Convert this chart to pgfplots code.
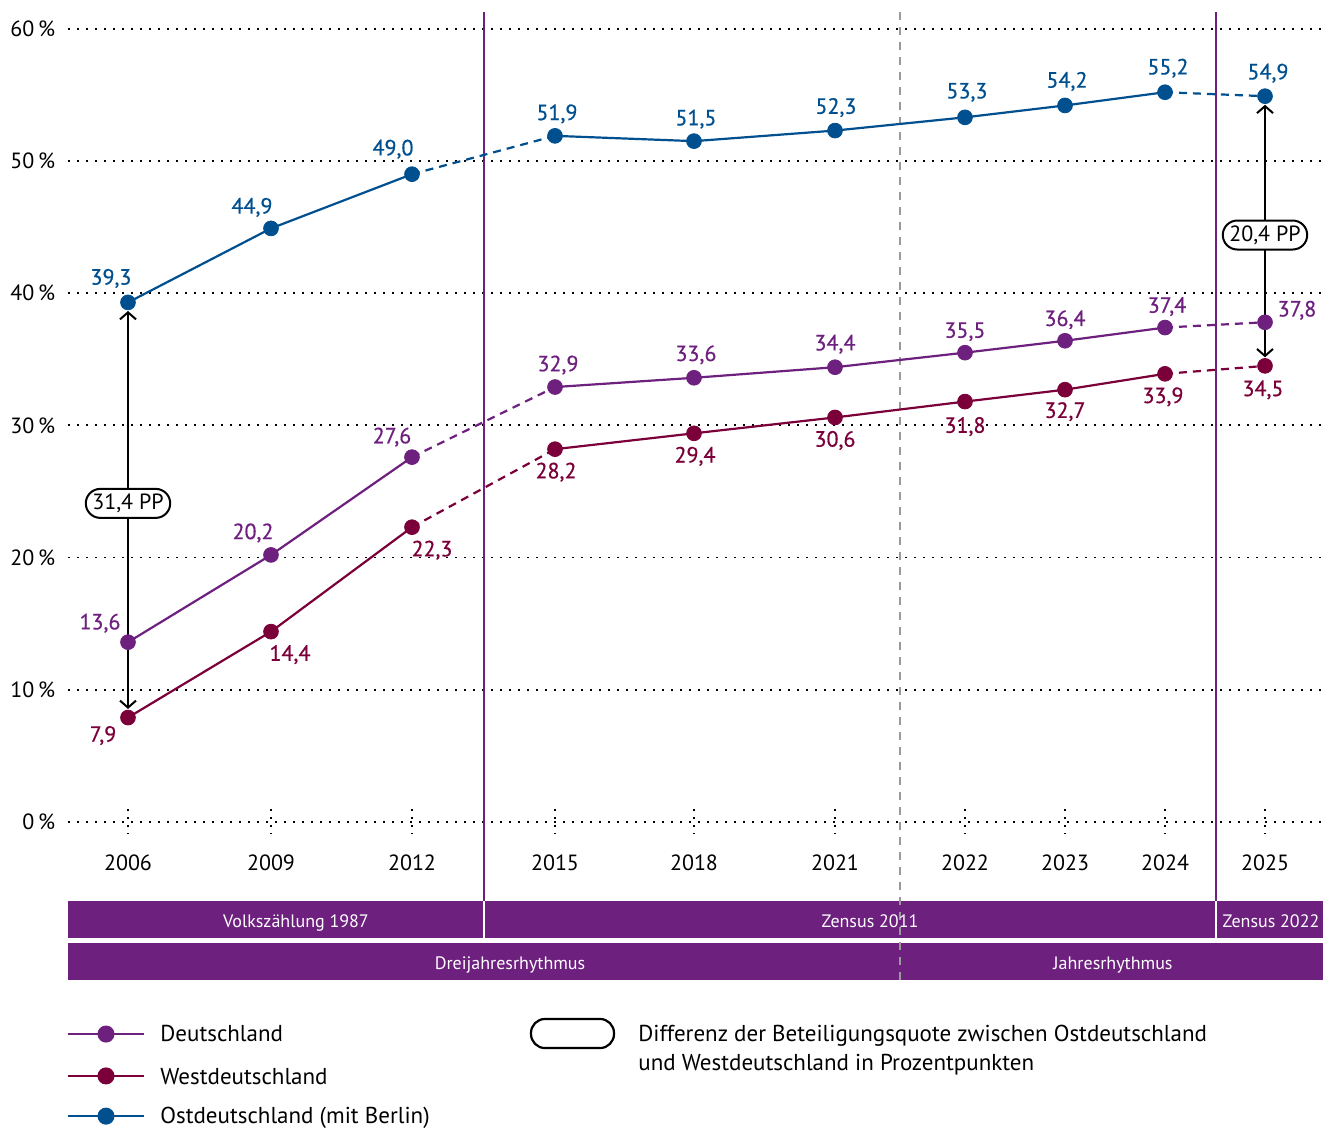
\documentclass[border=0pt]{standalone}
\usepackage{fontspec}
\setmainfont{PT Sans}
\newfontfamily\lblfont{PT Sans}[FakeBold=0.6]
\usepackage{pgfplots}
\pgfplotsset{compat=1.18}
\usepackage{pgfplotstable}
\usetikzlibrary{arrows.meta, shapes.misc}

\definecolor{ostblue}{HTML}{004F8F}
\definecolor{dpurple}{HTML}{6E207F}
\definecolor{westred}{HTML}{7B0039}
\definecolor{dashgray}{HTML}{9A9A9A}

% x positions are in picture units (years unevenly spaced as in the reference)
\pgfplotstableread{
x y dx dy
128 13.6 -14 9.5
271 20.2 -9 11
412 27.6 -10 10
555 32.9 1.5 11
694 33.6 1 11.5
835 34.4 0 11.5
965 35.5 0 10.5
1065 36.4 0 10.5
1165 37.4 1 10.5
1265 37.8 16 6
}\dtab

\pgfplotstableread{
x y dx dy
128 7.9 -12.5 -9
271 14.4 9.5 -11.5
412 22.3 10 -11.5
555 28.2 0.5 -11.5
694 29.4 0.5 -11.5
835 30.6 0 -11.5
965 31.8 0 -12.5
1065 32.7 0 -11
1165 33.9 -1 -11.5
1265 34.5 -1 -12
}\wtab

\pgfplotstableread{
x y dx dy
128 39.3 -8.5 12
271 44.9 -9.5 10.5
412 49.0 -9.5 12.5
555 51.9 1 11
694 51.5 1 11
835 52.3 0.5 11.5
965 53.3 1 12.5
1065 54.2 1 12
1165 55.2 1.5 12
1265 54.9 1.5 11.5
}\otab

\pgfplotsset{
  seg/.style={line width=1.1pt, forget plot},
  dseg/.style={line width=1.1pt, forget plot, dash pattern=on 4pt off 3pt},
  pts/.style={only marks, mark=*, mark size=3.7pt, forget plot, point meta=y,
    visualization depends on={\thisrow{dx} \as \dx},
    visualization depends on={\thisrow{dy} \as \dy},
    nodes near coords={\pgfmathprintnumber[use comma,fixed,fixed zerofill,precision=1]{\pgfplotspointmeta}},
    every node near coord/.append style={anchor=center, xshift=\dx pt, yshift=\dy pt,
      font=\lblfont\fontsize{11}{13}\selectfont, text=#1}},
  legline/.style={line width=1.1pt, mark=*, mark size=3.7pt, mark indices={2}, forget plot},
}

\begin{document}
\begin{tikzpicture}
\begin{axis}[
  at={(34pt,153.5pt)}, anchor=south west,
  width=627.5pt, height=405pt, scale only axis,
  xmin=68, xmax=1323, ymin=0, ymax=61.27,
  clip=false,
  axis line style={draw=none},
  xtick={128,271,412,555,694,835,965,1065,1165,1265},
  xticklabels={2006,2009,2012,2015,2018,2021,2022,2023,2024,2025},
  xtick pos=bottom, ytick pos=left,
  tick align=center, major tick length=12.5pt,
  xtick style={black, line width=0.9pt, dash pattern=on 0.9pt off 3pt},
  ytick={0,10,...,60},
  ytick style={draw=none},
  yticklabel={\pgfmathprintnumber{\tick}\,\%},
  ymajorgrids,
  grid style={black, line width=0.9pt, dash pattern=on 0.9pt off 3.6pt},
  /pgf/number format/assume math mode=true,
  tick label style={font=\fontsize{11}{13}\selectfont, text=black},
  xticklabel style={anchor=center, yshift=-14pt},
  yticklabel style={anchor=east, inner sep=0pt, xshift=0pt},
]

% period separators
\addplot[dpurple, line width=0.8pt, forget plot] coordinates {(484,61.27) (484,-5.976)};
\addplot[dpurple, line width=0.8pt, forget plot] coordinates {(1216,61.27) (1216,-5.976)};

% bands
\fill[dpurple] (axis cs:68,-5.976) rectangle (axis cs:1323,-8.775);
\fill[dpurple] (axis cs:68,-9.153) rectangle (axis cs:1323,-11.952);
\draw[white, line width=1pt] (axis cs:484,-5.976) -- (axis cs:484,-8.775);
\draw[white, line width=1pt] (axis cs:1216,-5.976) -- (axis cs:1216,-8.775);
\addplot[dashgray, line width=0.8pt, dash pattern=on 4pt off 3.5pt, forget plot] coordinates {(900,61.27) (900,-11.952)};
\node[white, anchor=base, font=\fontsize{9}{11}\selectfont] at (axis cs:296,-7.97) {Volkszählung 1987};
\node[white, anchor=base, font=\fontsize{9}{11}\selectfont] at (axis cs:870,-7.97) {Zensus 2011};
\node[white, anchor=base, font=\fontsize{9}{11}\selectfont] at (axis cs:1271,-7.97) {Zensus 2022};
\node[white, anchor=base, font=\fontsize{9}{11}\selectfont] at (axis cs:510,-11.14) {Dreijahresrhythmus};
\node[white, anchor=base, font=\fontsize{9}{11}\selectfont] at (axis cs:1113,-11.14) {Jahresrhythmus};

% Ostdeutschland
\addplot[ostblue, seg] table[x=x,y=y, restrict x to domain=128:412] {\otab};
\addplot[ostblue, dseg] table[x=x,y=y, restrict x to domain=412:555] {\otab};
\addplot[ostblue, seg] table[x=x,y=y, restrict x to domain=555:1165] {\otab};
\addplot[ostblue, dseg] table[x=x,y=y, restrict x to domain=1165:1265] {\otab};
% Deutschland
\addplot[dpurple, seg] table[x=x,y=y, restrict x to domain=128:412] {\dtab};
\addplot[dpurple, dseg] table[x=x,y=y, restrict x to domain=412:555] {\dtab};
\addplot[dpurple, seg] table[x=x,y=y, restrict x to domain=555:1165] {\dtab};
\addplot[dpurple, dseg] table[x=x,y=y, restrict x to domain=1165:1265] {\dtab};
% Westdeutschland
\addplot[westred, seg] table[x=x,y=y, restrict x to domain=128:412] {\wtab};
\addplot[westred, dseg] table[x=x,y=y, restrict x to domain=412:555] {\wtab};
\addplot[westred, seg] table[x=x,y=y, restrict x to domain=555:1165] {\wtab};
\addplot[westred, dseg] table[x=x,y=y, restrict x to domain=1165:1265] {\wtab};

% markers with labels
\addplot[pts=ostblue, color=ostblue] table[x=x,y=y] {\otab};
\addplot[pts=dpurple, color=dpurple] table[x=x,y=y] {\dtab};
\addplot[pts=westred, color=westred] table[x=x,y=y] {\wtab};

% difference arrows
\addplot[black, line width=1pt, forget plot, arrows={Straight Barb[length=3.5pt,width=8pt]-Straight Barb[length=3.5pt,width=8pt]}] coordinates {(128,8.55) (128,38.65)};
\addplot[black, line width=1pt, forget plot, arrows={Straight Barb[length=3.5pt,width=8pt]-Straight Barb[length=3.5pt,width=8pt]}] coordinates {(1265,35.15) (1265,54.25)};
\node[rounded rectangle, draw=black, line width=1pt, fill=white, inner xsep=1.5pt, inner ysep=0pt, minimum height=14.5pt, font=\fontsize{11}{13}\selectfont] at (axis cs:128,24.1) {31,4 PP};
\node[rounded rectangle, draw=black, line width=1pt, fill=white, inner xsep=1.5pt, inner ysep=0pt, minimum height=14.5pt, font=\fontsize{11}{13}\selectfont] at (axis cs:1265,44.4) {20,4 PP};

% legend (drawn below the plot area)
\addplot[dpurple, legline] coordinates {(68,-16.04) (106,-16.04) (144,-16.04)};
\addplot[westred, legline] coordinates {(68,-19.21) (106,-19.21) (144,-19.21)};
\addplot[ostblue, legline] coordinates {(68,-22.25) (106,-22.25) (144,-22.25)};
\node[anchor=base west, inner sep=0pt, font=\fontsize{11.5}{14}\selectfont] at (axis cs:160,-16.64) {Deutschland};
\node[anchor=base west, inner sep=0pt, font=\fontsize{11.5}{14}\selectfont] at (axis cs:160,-19.82) {Westdeutschland};
\node[anchor=base west, inner sep=0pt, font=\fontsize{11.5}{14}\selectfont] at (axis cs:160,-22.78) {Ostdeutschland (mit Berlin)};
\draw[black, line width=1.1pt, rounded corners=7pt] (axis cs:531,-14.90) rectangle (axis cs:614,-17.10);
\node[anchor=base west, inner sep=0pt, font=\fontsize{11.5}{14}\selectfont] at (axis cs:638,-16.64) {Differenz der Beteiligungsquote zwischen Ostdeutschland};
\node[anchor=base west, inner sep=0pt, font=\fontsize{11.5}{14}\selectfont] at (axis cs:638,-18.76) {und Westdeutschland in Prozentpunkten};
\end{axis}
\pgfresetboundingbox
\path (0,0) rectangle (661.5pt,564.5pt);
\end{tikzpicture}
\end{document}
